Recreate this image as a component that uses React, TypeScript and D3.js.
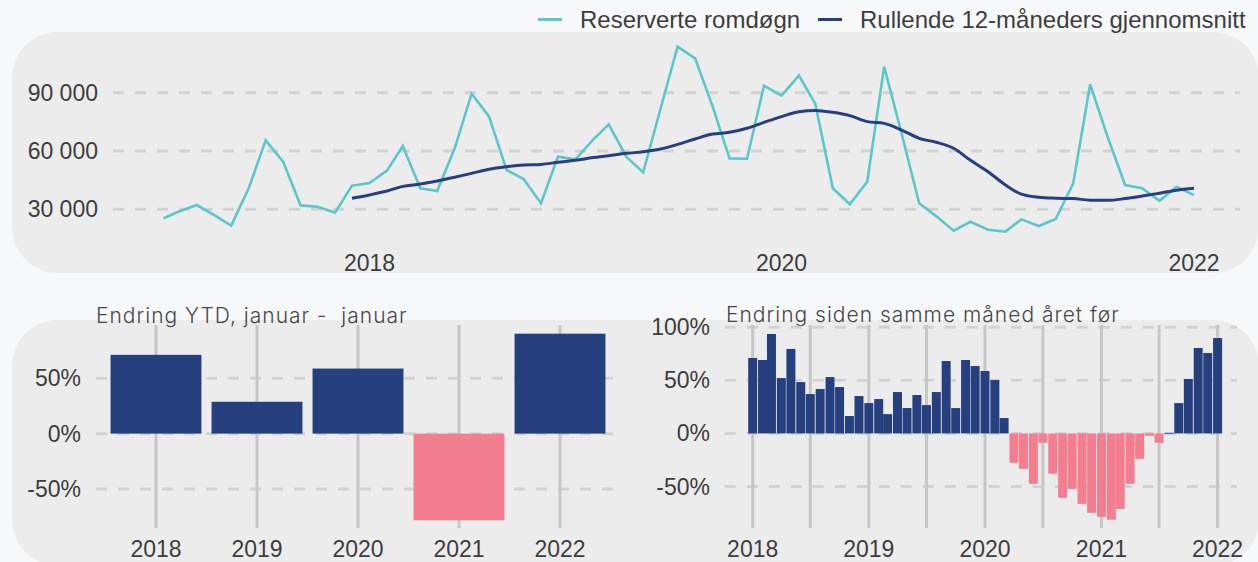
import React from 'react';
import * as d3 from 'd3';

// ---------- DATA ----------
const startMonth = new Date(2017, 0, 1);
// Reserverte romdøgn, monthly Jan 2017 – Jan 2022
const bookedNights = [
  25400, 29300, 32200, 27000, 21600, 40800, 65500, 54500, 32000, 31300, 28300, 42200,
  43500, 49900, 62600, 40800, 39400, 61400, 89500, 77700, 50200, 45600, 33100, 57100,
  55700, 65700, 73700, 57100, 49000, 82000, 113700, 107700, 83000, 56200, 56000, 93600,
  88500, 98800, 84200, 40800, 32600, 44200, 103400, 68900, 33100, 26500, 19000, 23600,
  19500, 18500, 24800, 21400, 25000, 43400, 94300, 67200, 42500, 40800, 34400, 41600,
  37300,
];
// Rullende 12-måneders gjennomsnitt, Dec 2017 – Jan 2022
const rollingStartIndex = 11;
const rollingAvg = [
  35700, 37400, 39400, 41800, 43000, 44600, 46500, 48500, 50600, 51900, 52800, 53100, 54200,
  55200, 56600, 57600, 58800, 59600, 61000, 63400, 66200, 68700, 69600, 71700, 74700,
  77700, 80200, 80900, 79900, 78200, 75100, 74200, 70800, 66500, 64500, 61400, 55200,
  49300, 42500, 37800, 36200, 35700, 35500, 34700, 34600, 35500, 36800, 38300, 39800,
  40800,
];
const topYTicks = [30000, 60000, 90000];
const topXTickYears = [2018, 2020, 2022];

// YTD change, january - january
const ytdYears = ['2018', '2019', '2020', '2021', '2022'];
const ytdChange = [71.2, 28.8, 58.8, -78.2, 90.3];
const ytdYTicks = [50, 0, -50];

// Change vs same month previous year, Jan 2018 – Jan 2022
const yoyStart = new Date(2018, 0, 1);
const yoyChange = [
  71.1, 69.2, 93.7, 52.2, 79.6, 48.4, 37.1, 41.8, 53.1, 43.7, 16.4, 35.2,
  28.6, 32.4, 18.2, 39.0, 23.9, 36.2, 26.7, 39.0, 68.2, 23.9, 69.2, 63.5,
  58.8, 50.3, 14.5, -27.7, -33.3, -47.5, -8.8, -38.0, -60.7, -52.2, -66.4, -74.8,
  -78.6, -81.3, -71.1, -47.5, -23.9, -2.2, -8.8, 0.5, 28.6, 51.3, 80.5, 75.8,
  89.9,
];
const yoyYTicks = [100, 50, 0, -50];
const yoyXTickYears = [2018, 2019, 2020, 2021, 2022];

const legendItems = ['Reserverte romdøgn', 'Rullende 12-måneders gjennomsnitt'];
const titles = ['Endring YTD, januar -  januar', 'Endring siden samme måned året før'];

// ---------- STYLE ----------
const W = 1258;
const H = 562;
const PAGE_BG = '#f7f8fa';
const PANEL_BG = '#ececec';
const TEAL = '#5cc6cb';
const NAVY = '#263f7f';
const PINK = '#f37e90';
const GRID_H = '#d2d2d2';
const GRID_V = '#c6c6c6';
const TEXT = '#3d3d3d';
const AXIS_FONT = '"Liberation Sans", Arial, sans-serif';
const TITLE_FONT = 'Inter, "Open Sans", sans-serif';

const addMonths = (d: Date, n: number) => new Date(d.getFullYear(), d.getMonth() + n, 1);

const spaceFmt = d3.formatLocale({
  decimal: ',',
  thousands: '\u00a0',
  grouping: [3],
  currency: ['', ''],
}).format(',');

export default function App() {
  // ----- top chart -----
  const xTop = d3
    .scaleTime()
    .domain([new Date(2017, 0, 1), new Date(2022, 0, 1)])
    .range([163.5, 1194]);
  const yTop = d3.scaleLinear().domain([0, 90000]).range([267.6, 92.7]);

  const bookedPts = bookedNights.map((v, i) => [xTop(addMonths(startMonth, i)), yTop(v)] as [number, number]);
  const rollPts = rollingAvg.map(
    (v, i) => [xTop(addMonths(startMonth, i + rollingStartIndex)), yTop(v)] as [number, number]
  );
  const linePath = d3.line();
  const smoothPath = d3.line().curve(d3.curveMonotoneX);

  // ----- bottom left -----
  const xYtd = d3.scaleBand<string>().domain(ytdYears).range([105.5, 610.5]).paddingInner(0.1).paddingOuter(0.05);
  const yYtd = d3.scaleLinear().domain([-50, 50]).range([489, 378.3]);

  // ----- bottom right -----
  const xYoy = d3.scaleTime().domain([new Date(2018, 0, 1), new Date(2022, 0, 1)]).range([752.7, 1217.6]);
  const yYoy = d3.scaleLinear().domain([-50, 100]).range([486.5, 327.3]);
  const monthStep = (xYoy(new Date(2022, 0, 1)) - xYoy(new Date(2018, 0, 1))) / 48;
  const barW = monthStep - 0.7;
  const halfYearTicks = d3.timeMonth.every(6)!.range(new Date(2018, 0, 1), new Date(2022, 0, 2));

  return (
    <svg
      width={W}
      height={H}
      style={{ position: 'absolute', left: 0, top: 0, display: 'block' }}
      xmlns="http://www.w3.org/2000/svg"
    >
      <rect x={0} y={0} width={W} height={H} fill={PAGE_BG} />

      {/* Panels */}
      <rect x={12} y={32} width={1247} height={241} rx={46} ry={46} fill={PANEL_BG} />
      <rect x={12} y={320} width={1247} height={246} rx={46} ry={46} fill={PANEL_BG} />

      {/* Legend */}
      <g fontFamily={AXIS_FONT} fontSize={24} fill={TEXT}>
        <line x1={538} x2={562} y1={19.5} y2={19.5} stroke={TEAL} strokeWidth={3} />
        <text x={580} y={28}>{legendItems[0]}</text>
        <line x1={818} x2={842} y1={19.5} y2={19.5} stroke={NAVY} strokeWidth={3} />
        <text x={860} y={28}>{legendItems[1]}</text>
      </g>

      {/* Top chart grid */}
      <g>
        {topYTicks.map((t) => (
          <line
            key={t}
            x1={113}
            x2={1240}
            y1={yTop(t)}
            y2={yTop(t)}
            stroke={GRID_H}
            strokeWidth={3}
            strokeDasharray="11 11"
          />
        ))}
      </g>
      <g fontFamily={AXIS_FONT} fontSize={23} fill={TEXT}>
        {topYTicks.map((t) => (
          <text key={t} x={98} y={yTop(t)} textAnchor="end" dominantBaseline="central">
            {spaceFmt(t)}
          </text>
        ))}
        {topXTickYears.map((yr) => (
          <text key={yr} x={xTop(new Date(yr, 0, 1))} y={271} textAnchor="middle">
            {yr}
          </text>
        ))}
      </g>
      <path d={linePath(bookedPts) || ''} fill="none" stroke={TEAL} strokeWidth={2.6} strokeLinejoin="miter" />
      <path d={smoothPath(rollPts) || ''} fill="none" stroke={NAVY} strokeWidth={3} />

      {/* Bottom left chart */}
      <text
        x={96}
        y={323}
        fontFamily={TITLE_FONT}
        fontSize={21}
        fontWeight={300}
        letterSpacing={1}
        fill="#474747"
        style={{ whiteSpace: 'pre' }}
      >
        {titles[0]}
      </text>
      {ytdYTicks.map((t) => (
        <line
          key={t}
          x1={96}
          x2={621}
          y1={yYtd(t)}
          y2={yYtd(t)}
          stroke={GRID_H}
          strokeWidth={3}
          strokeDasharray="11 11"
        />
      ))}
      {ytdYears.map((yr) => {
        const cx = xYtd(yr)! + xYtd.bandwidth() / 2;
        return <line key={yr} x1={cx} x2={cx} y1={325} y2={528} stroke={GRID_V} strokeWidth={3} />;
      })}
      {ytdYears.map((yr, i) => {
        const v = ytdChange[i];
        const y0 = yYtd(0);
        const y1 = yYtd(v);
        return (
          <rect
            key={yr}
            x={xYtd(yr)}
            y={Math.min(y0, y1)}
            width={xYtd.bandwidth()}
            height={Math.abs(y1 - y0)}
            fill={v >= 0 ? NAVY : PINK}
          />
        );
      })}
      <g fontFamily={AXIS_FONT} fontSize={23} fill={TEXT}>
        {ytdYTicks.map((t) => (
          <text key={t} x={81} y={yYtd(t)} textAnchor="end" dominantBaseline="central">
            {`${t}%`}
          </text>
        ))}
        {ytdYears.map((yr) => (
          <text key={yr} x={xYtd(yr)! + xYtd.bandwidth() / 2} y={557} textAnchor="middle">
            {yr}
          </text>
        ))}
      </g>

      {/* Bottom right chart */}
      <text
        x={726}
        y={322}
        fontFamily={TITLE_FONT}
        fontSize={21}
        fontWeight={300}
        letterSpacing={1}
        fill="#474747"
      >
        {titles[1]}
      </text>
      {yoyYTicks.map((t) => (
        <line
          key={t}
          x1={724.7}
          x2={1237}
          y1={yYoy(t)}
          y2={yYoy(t)}
          stroke={GRID_H}
          strokeWidth={3}
          strokeDasharray="11 11"
        />
      ))}
      {halfYearTicks.map((d) => (
        <line
          key={d.getTime()}
          x1={xYoy(d)}
          x2={xYoy(d)}
          y1={325}
          y2={528}
          stroke={GRID_V}
          strokeWidth={3}
        />
      ))}
      {yoyChange.map((v, i) => {
        const cx = xYoy(addMonths(yoyStart, i));
        const y0 = yYoy(0);
        const y1 = yYoy(v);
        return (
          <rect
            key={i}
            x={cx - barW / 2}
            y={Math.min(y0, y1)}
            width={barW}
            height={Math.max(Math.abs(y1 - y0), 0.8)}
            fill={v >= 0 ? NAVY : PINK}
          />
        );
      })}
      <g fontFamily={AXIS_FONT} fontSize={23} fill={TEXT}>
        {yoyYTicks.map((t) => (
          <text key={t} x={710} y={yYoy(t)} textAnchor="end" dominantBaseline="central">
            {`${t}%`}
          </text>
        ))}
        {yoyXTickYears.map((yr) => (
          <text key={yr} x={xYoy(new Date(yr, 0, 1))} y={557} textAnchor="middle">
            {yr}
          </text>
        ))}
      </g>
    </svg>
  );
}
